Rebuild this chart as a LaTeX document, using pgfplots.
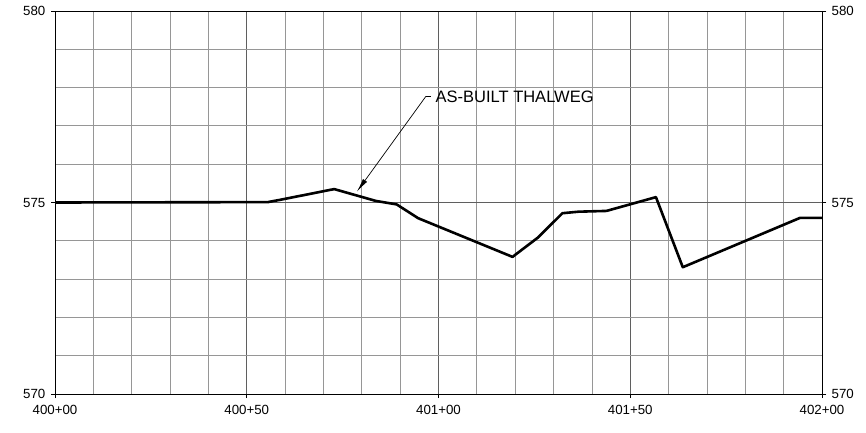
\documentclass[border=0pt]{standalone}
\usepackage{fontspec}
\setmainfont{Liberation Sans}
\usepackage{pgfplots}
\pgfplotsset{compat=1.18}
\usetikzlibrary{arrows.meta}

% as-built thalweg profile (station ft from 400+00, elevation ft)
\pgfplotstableread{
sta elev
0     575.00
55.5  575.01
58.7  575.07
72.8  575.35
83.7  575.04
89.1  574.95
94.7  574.59
119.3 573.58
126.0 574.09
132.3 574.72
136.5 574.76
143.8 574.78
156.7 575.14
163.7 573.31
194.3 574.60
200   574.60
}\thalweg

\begin{document}
\fontsize{13.3bp}{15bp}\selectfont
\begin{tikzpicture}
\path[use as bounding box] (0,0) rectangle (866bp,433bp);
\pgfplotsset{
  every axis/.append style={
    scale only axis, width=767bp, height=383bp,
    at={(55bp,39bp)}, anchor=south west,
    xmin=0, xmax=200, ymin=570, ymax=580,
    tick align=outside, major tick length=4bp,
    tick style={black, line width=0.8bp},
    /pgf/number format/assume math mode=true,
    tick label style={font=\fontsize{13.3bp}{15bp}\selectfont},
  }
}
\begin{axis}[
  axis line style={black, line width=0.9bp},
  xtick={0,50,100,150,200},
  xticklabels={400+00,400+50,401+00,401+50,402+00},
  minor xtick={0,10,...,200},
  ytick={570,575,580},
  minor ytick={570,571,...,580},
  grid=both,
  major grid style={draw={rgb,255:red,95;green,95;blue,95}, line width=0.8bp},
  minor grid style={draw={rgb,255:red,150;green,150;blue,150}, line width=0.8bp},
  minor tick length=0pt,
  xtick pos=bottom, ytick pos=both,
  yticklabel pos=left,
  xticklabel style={yshift=-3bp},
  yticklabel style={xshift=-1bp},
]
\addplot[black, line width=2.6bp, line join=round] table[x=sta, y=elev] {\thalweg};
\draw[black, line width=0.7bp, -{Latex[length=14bp, width=5bp]}]
  (axis cs:98.0,577.77) -- (axis cs:96.7,577.77) -- (axis cs:78.7,575.28);
\node[anchor=west, inner sep=0pt, font=\fontsize{16.5bp}{18bp}\selectfont]
  at (axis cs:99.2,577.77) {AS-BUILT THALWEG};
\end{axis}
\begin{axis}[
  axis x line=none,
  axis y line*=right,
  axis line style={draw=none},
  ytick={570,575,580},
  xtick=\empty,
  yticklabel style={xshift=1bp},
]
\end{axis}
\end{tikzpicture}
\end{document}
